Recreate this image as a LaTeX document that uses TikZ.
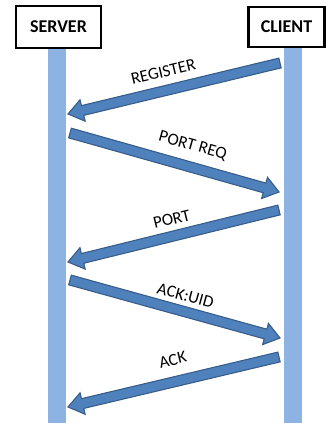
\documentclass[tikz,border=0pt]{standalone}
\usepackage{fontspec}
\setmainfont{Carlito}
\usetikzlibrary{calc}
\definecolor{barblue}{HTML}{8DB3E2}
\definecolor{arrfill}{HTML}{4F81BD}
\definecolor{arrline}{HTML}{385D8A}
\tikzset{
  actor/.style={draw=black, line width=2.5pt, fill=white, inner sep=0pt,
    font=\fontsize{18}{20}\selectfont\bfseries},
  lifeline/.style={fill=barblue, draw=none, inner sep=0pt},
  msgarrow/.style={fill=arrfill, draw=arrline, line width=1.1pt, line join=miter},
  msglabel/.style={sloped, inner sep=0pt, font=\fontsize{17}{19}\selectfont}
}
\newcommand{\blockarrow}[2]{%
  \coordinate (hb) at ($(#2)!15pt!(#1)$);
  \path[msgarrow] ($(#1)!5pt!90:(#2)$) -- ($(hb)!5pt!90:(#2)$) -- ($(hb)!11pt!90:(#2)$)
    -- (#2) -- ($(hb)!11pt!-90:(#2)$) -- ($(hb)!5pt!-90:(#2)$) -- ($(#1)!5pt!-90:(#2)$) -- cycle;
}
\begin{document}
\begin{tikzpicture}[x=1pt, y=-1pt]
\useasboundingbox (0,0) rectangle (326,423);
% lifelines
\node[lifeline, minimum width=18pt, minimum height=375pt] (sbar) at (56.5,235.5) {};
\node[lifeline, minimum width=18pt, minimum height=375pt] (cbar) at (293,235.5) {};
% actors
\node[actor, minimum width=85pt, minimum height=42pt] (server) at (58.5,27) {SERVER};
\node[actor, minimum width=76pt, minimum height=40pt] (client) at (286.5,27) {CLIENT};
% message endpoints
\coordinate (c1) at (280,63);  \coordinate (s1) at (68,114);
\coordinate (s2) at (70,133);  \coordinate (c2) at (279,192);
\coordinate (c3) at (279,210); \coordinate (s3) at (68,262);
\coordinate (s4) at (70,280);  \coordinate (c4) at (280,338);
\coordinate (c5) at (279,357); \coordinate (s5) at (68,407);
% arrows
\blockarrow{c1}{s1}
\blockarrow{s2}{c2}
\blockarrow{c3}{s3}
\blockarrow{s4}{c4}
\blockarrow{c5}{s5}
% labels
\path (c1) -- (s1) node[msglabel, pos=0.53, above=13pt] (l1) {REGISTER};
\path (s2) -- (c2) node[msglabel, pos=0.56, above=14pt] (l2) {PORT REQ};
\path (c3) -- (s3) node[msglabel, pos=0.49, above=11pt] (l3) {PORT};
\path (s4) -- (c4) node[msglabel, pos=0.53, above=10pt] (l4) {ACK:UID};
\path (c5) -- (s5) node[msglabel, pos=0.48, above=16pt] (l5) {ACK};
\end{tikzpicture}
\end{document}
